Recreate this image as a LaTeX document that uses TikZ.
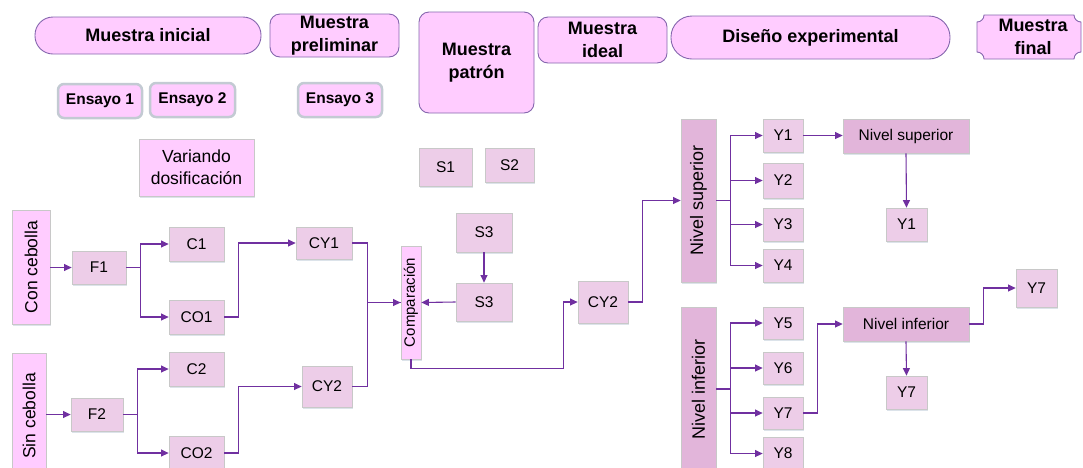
\documentclass[tikz,border=0pt]{standalone}
\usepackage{fontspec}
\usepackage{graphicx}
\setmainfont{Liberation Sans}
\usetikzlibrary{arrows.meta,calc,shadows}
\definecolor{pinkA}{HTML}{FFCCFF}
\definecolor{boxA}{HTML}{EDCDE8}
\definecolor{mauve}{HTML}{E2B5DA}
\definecolor{arrowc}{HTML}{7030A0}
\definecolor{hdrb}{HTML}{8566AE}
\definecolor{grayb}{HTML}{C8C8C8}
\definecolor{glowc}{HTML}{C3CAD3}
\definecolor{shadowc}{HTML}{DCE3EA}
\begin{document}
\begin{tikzpicture}[x=1pt,y=-1pt,
  hdr/.style={draw=hdrb, fill=pinkA, line width=0.9pt, inner sep=0pt, align=center,
    font=\fontsize{18}{22.5}\selectfont\bfseries},
  ens/.style={fill=pinkA, draw=glowc, line width=2.5pt, rounded corners=6pt, inner sep=0pt,
    font=\fontsize{15.5}{17}\selectfont\bfseries},
  pbox/.style={fill=pinkA, draw=grayb, line width=0.8pt, inner sep=0pt, align=center,
    font=\fontsize{17.5}{22}\selectfont,
    drop shadow={shadow xshift=0.8pt, shadow yshift=-1.5pt, fill=shadowc, opacity=1}},
  gbox/.style={fill=boxA, draw=grayb, line width=0.8pt, inner sep=0pt,
    font=\fontsize{15.5}{18}\selectfont,
    drop shadow={shadow xshift=0.8pt, shadow yshift=-1.5pt, fill=shadowc, opacity=1}},
  mbox/.style={fill=mauve, draw=grayb, line width=0.8pt, inner sep=0pt,
    font=\fontsize{15.5}{18}\selectfont,
    drop shadow={shadow xshift=0.8pt, shadow yshift=-1.5pt, fill=shadowc, opacity=1}},
  conn/.style={draw=arrowc, line width=1.1pt, -{Triangle[length=7.5pt,width=7pt]}},
  link/.style={draw=arrowc, line width=1.1pt}]
\useasboundingbox (0,0) rectangle (1083,467);
\clip (0,0) rectangle (1083,467);

% ---------- stage headers ----------
\node[hdr, rounded corners=18pt, minimum width=226, minimum height=37] (mi) at (148,35.5) {Muestra inicial};
\node[hdr, rounded corners=10pt, minimum width=129, minimum height=43] (mpre) at (334.5,35.5) {Muestra\\preliminar};
\node[hdr, rounded corners=10pt, minimum width=115, minimum height=101] (mpat) at (476.5,62.5) {Muestra\\patrón};
\node[hdr, rounded corners=10pt, minimum width=129, minimum height=46] (mid) at (602.5,40) {Muestra\\ideal};
\node[hdr, rounded corners=21pt, minimum width=279, minimum height=43] (dex) at (810.5,37.5) {Diseño experimental};
% plaque with concave corners
\path[draw=hdrb, fill=pinkA, line width=0.9pt]
  (984,15) -- (1074,15) .. controls (1074,18.9) and (1077.1,22) .. (1081,22)
  -- (1081,52) .. controls (1077.1,52) and (1074,55.1) .. (1074,59)
  -- (984,59) .. controls (984,55.1) and (980.9,52) .. (977,52)
  -- (977,22) .. controls (980.9,22) and (984,18.9) .. (984,15) -- cycle;
\node[font=\fontsize{18}{23}\selectfont\bfseries, align=center, inner sep=0pt] (mfin) at (1033,37) {Muestra\\final};

% ---------- trials ----------
\node[ens, minimum width=84, minimum height=34] (e1) at (100,101) {Ensayo 1};
\node[ens, minimum width=85, minimum height=34] (e2) at (192.5,100) {Ensayo 2};
\node[ens, minimum width=84, minimum height=34] (e3) at (340,100) {Ensayo 3};
\node[pbox, minimum width=115, minimum height=57] (var) at (196.5,167.5) {Variando\\dosificación};

% ---------- samples ----------
\node[gbox, minimum width=53, minimum height=38] (s1) at (445.5,167) {S1};
\node[gbox, minimum width=49, minimum height=34] (s2) at (509.5,165) {S2};

% ---------- left branch ----------
\node[pbox, minimum width=38, minimum height=114] (cc) at (31,267) {\rotatebox{90}{Con cebolla}};
\node[pbox, minimum width=34, minimum height=126] (sc) at (29,416) {\rotatebox{90}{Sin cebolla}};
\node[gbox, minimum width=54, minimum height=33] (f1) at (99,267.5) {F1};
\node[gbox, minimum width=55, minimum height=34] (c1) at (196.5,244) {C1};
\node[gbox, minimum width=55, minimum height=34] (co1) at (196.5,317) {CO1};
\node[gbox, minimum width=56, minimum height=32] (cy1) at (324,243) {CY1};
\node[gbox, minimum width=52, minimum height=33] (f2) at (97,414.5) {F2};
\node[gbox, minimum width=55, minimum height=34] (c2) at (196.5,369) {C2};
\node[gbox, minimum width=55, minimum height=34] (co2) at (196.5,453) {CO2};
\node[gbox, minimum width=50, minimum height=41] (cy2a) at (327,386.5) {CY2};

\node[pbox, minimum width=20, minimum height=113, font=\fontsize{15}{18}\selectfont] (comp) at (411,302.5) {\rotatebox{90}{Comparación}};
\node[gbox, minimum width=56, minimum height=39] (s3a) at (484,232.5) {S3};
\node[gbox, minimum width=56, minimum height=38] (s3b) at (484,302) {S3};
\node[gbox, minimum width=50, minimum height=42] (cy2b) at (603,302) {CY2};

% ---------- experimental design ----------
\node[mbox, minimum width=35, minimum height=163, font=\fontsize{18}{20}\selectfont] (nsv) at (698.5,200.5) {\rotatebox{90}{Nivel superior}};
\node[mbox, minimum width=35, minimum height=164, font=\fontsize{18}{20}\selectfont] (niv) at (698.5,389) {\rotatebox{90}{Nivel inferior}};
\node[gbox, minimum width=40, minimum height=33] (y1) at (783,135.5) {Y1};
\node[gbox, minimum width=40, minimum height=35] (y2) at (783,180.5) {Y2};
\node[gbox, minimum width=40, minimum height=33] (y3) at (783,224.5) {Y3};
\node[gbox, minimum width=40, minimum height=33] (y4) at (783,265.5) {Y4};
\node[gbox, minimum width=40, minimum height=32] (y5) at (783,323) {Y5};
\node[gbox, minimum width=40, minimum height=32] (y6) at (783,368) {Y6};
\node[gbox, minimum width=40, minimum height=32] (y7a) at (783,413) {Y7};
\node[gbox, minimum width=40, minimum height=33] (y8) at (783,453.5) {Y8};
\node[mbox, minimum width=126, minimum height=34] (nsh) at (906,136) {Nivel superior};
\node[mbox, minimum width=126, minimum height=34] (nih) at (906,324) {Nivel inferior};
\node[gbox, minimum width=41, minimum height=33] (y1b) at (906.5,224.5) {Y1};
\node[gbox, minimum width=41, minimum height=33] (y7b) at (906.5,392.5) {Y7};
\node[gbox, minimum width=41, minimum height=38] (y7c) at (1036.5,288) {Y7};

% ---------- connectors ----------
\draw[conn] (cc.east |- f1.west) -- (f1.west);
\draw[conn] (f1.east) -- ++(14,0) |- (c1.west);
\draw[conn] (f1.east) -- ++(14,0) |- (co1.west);
\draw[conn] (co1.east) -- ++(14,0) |- (cy1.west);
\draw[conn] (sc.east |- f2.west) -- (f2.west);
\draw[conn] (f2.east) -- ++(14,0) |- (c2.west);
\draw[conn] (f2.east) -- ++(14,0) |- (co2.west);
\draw[conn] (co2.east) -- ++(14,0) |- (cy2a.west);
\draw[link] (cy1.east) -- ++(15,0) |- (comp.west);
\draw[conn] (cy2a.east) -- ++(15,0) |- (comp.west);
\draw[conn] (s3a.south) -- (s3b.north);
\draw[conn] (s3b.west) -- (comp.east);
\draw[conn] (comp.south) -- ++(0,9) -| ($(cy2b.west)+(-14,0)$) -- (cy2b.west);
\draw[conn] (cy2b.east) -- ++(14,0) |- (nsv.west);
\foreach \t in {y1,y2,y3,y4} \draw[conn] (nsv.east) -- ++(14,0) |- (\t.west);
\foreach \t in {y5,y6,y7a,y8} \draw[conn] (niv.east) -- ++(14,0) |- (\t.west);
\draw[conn] (y1.east) -- (y1.east -| nsh.west);
\draw[conn] (nsh.south) -- (y1b.north);
\draw[conn] (y7a.east) -- ++(14,0) |- (nih.west);
\draw[conn] (nih.south) -- (y7b.north);
\draw[conn] (nih.east) -- ++(14,0) |- (y7c.west);
\end{tikzpicture}
\end{document}
